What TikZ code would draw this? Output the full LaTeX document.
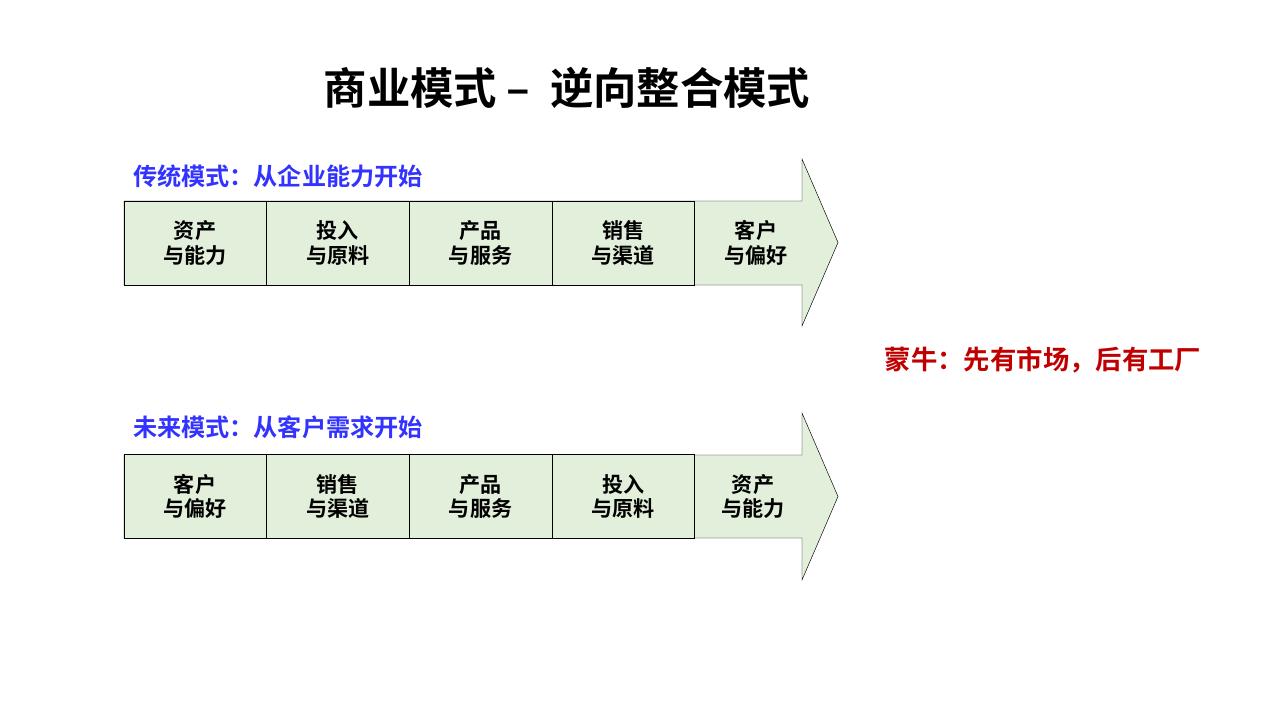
\documentclass[tikz,border=0pt]{standalone}
\usepackage{fontspec}
\setmainfont{Noto Sans CJK SC}[BoldFont={Noto Sans CJK SC Bold}]
\usetikzlibrary{positioning}
\definecolor{stagegreen}{RGB}{226,239,218}
\definecolor{modeblue}{RGB}{51,51,255}
\definecolor{mengred}{RGB}{192,0,0}

\tikzset{
  stage/.style={draw, thin, fill=stagegreen, minimum width=4.27cm, minimum height=2.52cm,
    align=center, font=\bfseries\fontsize{18}{21}\selectfont},
  stagetext/.style={align=center, font=\bfseries\fontsize{18}{21}\selectfont},
  flow/.style={draw, thin, fill=stagegreen},
  modelabel/.style={anchor=west, text=modeblue, font=\bfseries\fontsize{20.6}{24}\selectfont}
}

\begin{document}
\begin{tikzpicture}[x=0.03cm,y=-0.03cm]
\useasboundingbox (0,0) rectangle (1280,720);

\node (title) at (567,88) {\bfseries\fontsize{37}{37}\selectfont 商业模式 –\ \ 逆向整合模式};

% traditional
\node [modelabel] (lab1) at (129,176) {传统模式：从企业能力开始};
\draw [flow] (124,201) -- (802,201) -- (802,159) -- (838,242.5) -- (802,326) -- (802,285) -- (124,285) -- cycle;
\node [stage] (a1) at (195,243) {资产\\与能力};
\node [stage, right=0pt of a1] (a2) {投入\\与原料};
\node [stage, right=0pt of a2] (a3) {产品\\与服务};
\node [stage, right=0pt of a3] (a4) {销售\\与渠道};
\node [stagetext] (a5) at (756,243) {客户\\与偏好};

\node (mengniu) at (1043,360) {\color{mengred}\bfseries\fontsize{22.5}{24}\selectfont 蒙牛：先有市场，后有工厂};

% future
\node [modelabel] (lab2) at (129,427) {未来模式：从客户需求开始};
\draw [flow] (124,455) -- (802,455) -- (802,413) -- (838,496.5) -- (802,580) -- (802,538) -- (124,538) -- cycle;
\node [stage] (b1) at (195,496.5) {客户\\与偏好};
\node [stage, right=0pt of b1] (b2) {销售\\与渠道};
\node [stage, right=0pt of b2] (b3) {产品\\与服务};
\node [stage, right=0pt of b3] (b4) {投入\\与原料};
\node [stagetext] (b5) at (753,496.5) {资产\\与能力};

\end{tikzpicture}
\end{document}
